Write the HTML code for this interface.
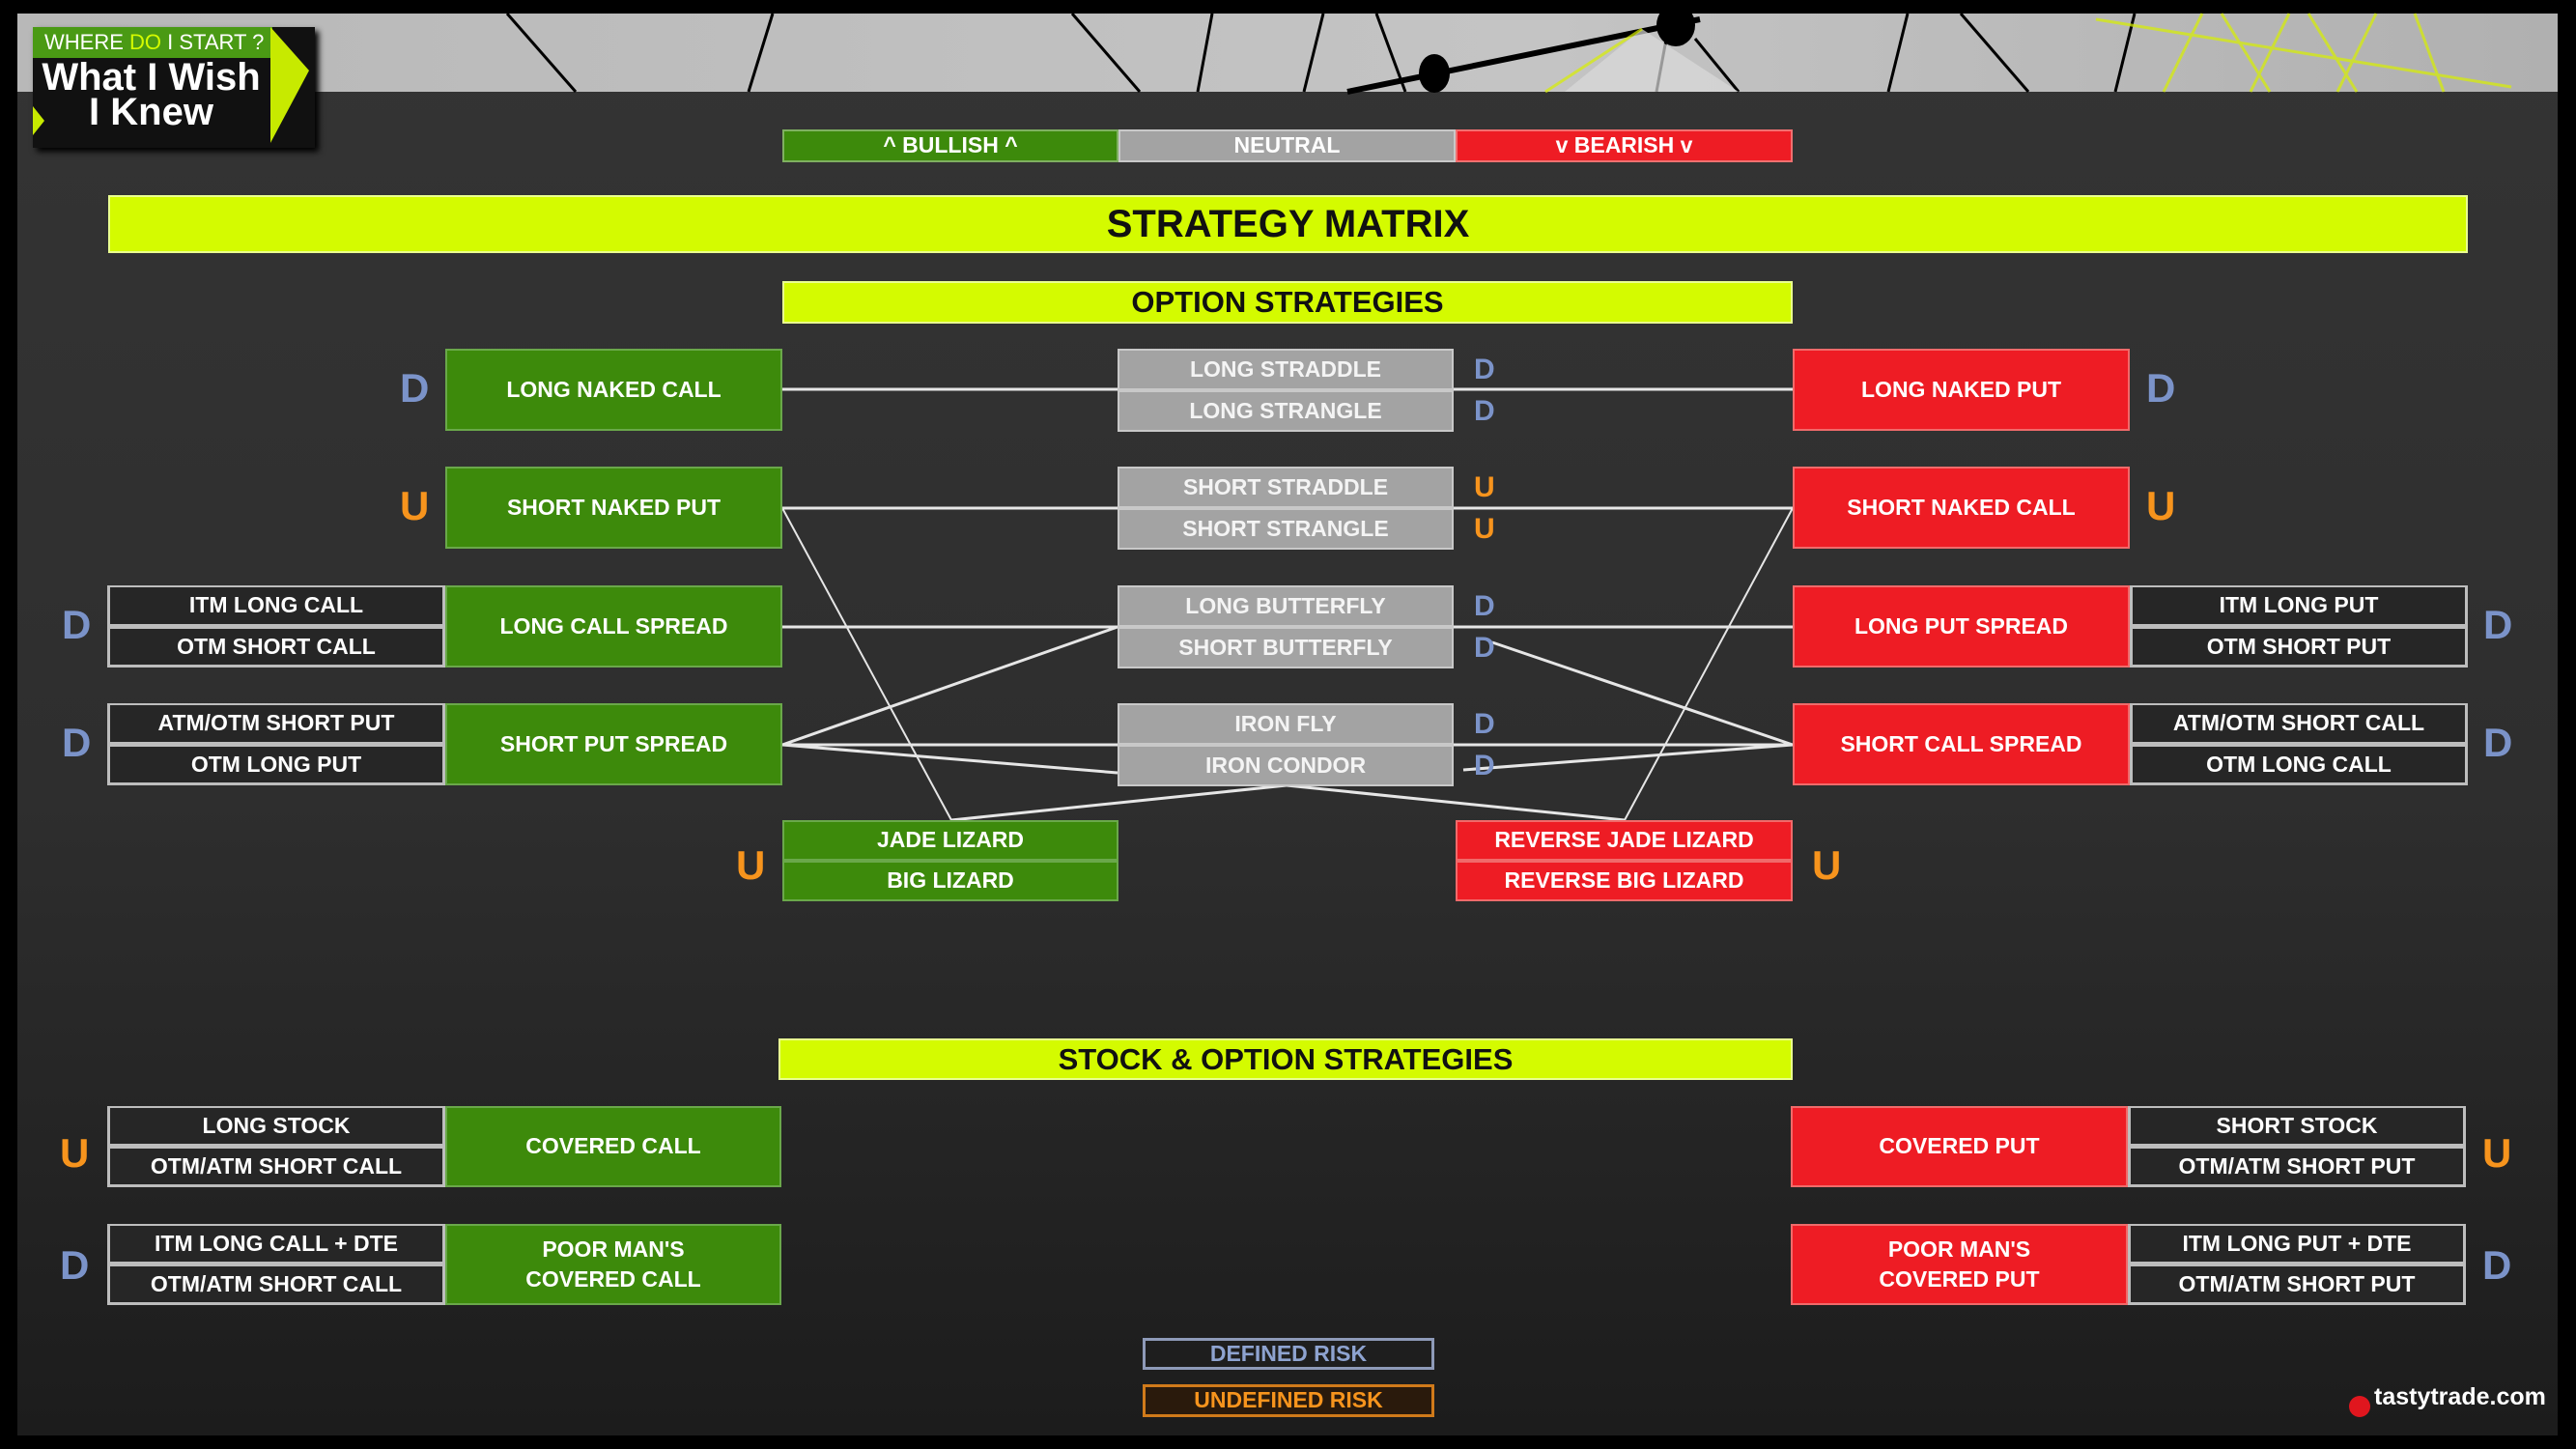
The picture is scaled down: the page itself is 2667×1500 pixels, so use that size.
<!DOCTYPE html>
<html><head><meta charset="utf-8">
<style>
*{margin:0;padding:0;box-sizing:border-box}
body{width:2667px;height:1500px;background:#000;position:relative;overflow:hidden;font-family:"Liberation Sans Narrow","Liberation Sans",sans-serif;font-weight:bold}
.bg{position:absolute;left:18px;top:14px;width:2630px;height:1472px;background:linear-gradient(#343434,#2e2e2e 55%,#1c1c1c)}
.strip{position:absolute;left:18px;top:14px;width:2630px;height:81px;background:linear-gradient(90deg,#b8b8b8,#c4c4c4 60%,#b0b0b0)}
.a{position:absolute;display:flex;align-items:center;justify-content:center;text-align:center;color:#fff;font-size:23px;line-height:1.35}
.g{background:#3d8a0b;border:2px solid #6aa84a}
.r{background:#ee1c24;border:2px solid #f06a6a}
.gr{background:#a3a3a3;border:2px solid #c8c8c8;color:#f4f4f4}
.t{background:#262626;border:3px solid #bdbdbd;border-top-width:2px}
.y{background:#d4fb00;color:#111;border:2px solid #eaff90}
.D{position:absolute;color:#7b93c9;font-size:42px;font-family:"Liberation Sans",sans-serif}
.U{position:absolute;color:#f7941d;font-size:42px;font-family:"Liberation Sans",sans-serif}
.s{font-size:30px}
</style></head><body>
<div class="bg"></div>
<div class="strip"></div>
<svg style="position:absolute;left:0;top:0" width="2667" height="1500">
 <g stroke="#000" stroke-width="3" fill="none">
  <line x1="525" y1="14" x2="596" y2="95"/><line x1="800" y1="14" x2="775" y2="95"/>
  <line x1="1110" y1="14" x2="1180" y2="95"/><line x1="1255" y1="14" x2="1240" y2="95"/>
  <line x1="1370" y1="14" x2="1350" y2="95"/><line x1="1425" y1="14" x2="1455" y2="95"/>
  <line x1="1395" y1="95" x2="1760" y2="20" stroke-width="6"/>
  <line x1="1730" y1="14" x2="1715" y2="95"/><line x1="1755" y1="40" x2="1800" y2="95"/>
  <line x1="1975" y1="14" x2="1955" y2="95"/><line x1="2030" y1="14" x2="2100" y2="95"/>
  <line x1="2210" y1="14" x2="2190" y2="95"/>
 </g>
 <ellipse cx="1485" cy="76" rx="16" ry="20" fill="#000"/>
 <ellipse cx="1735" cy="26" rx="20" ry="22" fill="#000"/>
 <polygon points="1620,95 1700,30 1800,95" fill="#dadada" opacity=".7"/>
 <g stroke="#d8f000" stroke-width="3" opacity=".7" fill="none">
  <line x1="2170" y1="20" x2="2600" y2="90"/><line x1="2240" y1="95" x2="2280" y2="14"/>
  <line x1="2330" y1="95" x2="2370" y2="14"/><line x1="2420" y1="95" x2="2460" y2="14"/>
  <line x1="2300" y1="14" x2="2350" y2="95"/><line x1="2390" y1="14" x2="2440" y2="95"/>
  <line x1="2500" y1="14" x2="2530" y2="95"/><line x1="1600" y1="95" x2="1700" y2="30"/>
 </g>
 <g stroke="#e6e6e6" stroke-width="3" fill="none">
  <line x1="810" y1="403" x2="1856" y2="403"/>
  <line x1="810" y1="526" x2="1856" y2="526"/>
  <line x1="810" y1="649" x2="1856" y2="649"/>
  <line x1="810" y1="771" x2="1856" y2="771"/>
  <line x1="810" y1="771" x2="1157" y2="649"/>
  <line x1="810" y1="771" x2="1157" y2="800"/>
  <line x1="1545" y1="665" x2="1856" y2="771"/>
  <line x1="1515" y1="797" x2="1856" y2="771"/>
  <line x1="985" y1="849" x2="1332" y2="813"/>
  <line x1="1682" y1="849" x2="1332" y2="813"/>
  <line x1="810" y1="526" x2="985" y2="849" stroke-width="2"/>
  <line x1="1856" y1="526" x2="1682" y2="849" stroke-width="2"/>
 </g>
</svg>
<div style="position:absolute;left:34px;top:28px;width:292px;height:125px;background:#111;box-shadow:4px 4px 6px #000"></div>
<div style="position:absolute;left:34px;top:28px;width:248px;height:32px;background:#4a9a14;color:#fff;font-size:22px;font-weight:normal;padding-left:12px;line-height:32px">WHERE <span style="color:#d4fb00">DO</span> I START ?</div>
<svg style="position:absolute;left:280px;top:28px" width="46" height="120"><polygon points="0,0 40,45 0,120" fill="#c7ea00"/></svg>
<svg style="position:absolute;left:34px;top:110px" width="14" height="30"><polygon points="0,0 12,15 0,30" fill="#c7ea00"/></svg>
<div style="position:absolute;left:34px;top:62px;width:245px;color:#fff;font-size:40px;line-height:36px;text-align:center">What I Wish<br>I Knew</div>

<div class="a" style="left:810px;top:134px;width:348px;height:34px;background:#3d8a0b;border:2px solid #7fb060">^ BULLISH ^</div>
<div class="a" style="left:1158px;top:134px;width:349px;height:34px;background:#a3a3a3;border:2px solid #c8c8c8">NEUTRAL</div>
<div class="a" style="left:1507px;top:134px;width:349px;height:34px;background:#ee1c24;border:2px solid #f07070">v BEARISH v</div>

<div class="a y" style="left:112px;top:202px;width:2443px;height:60px;font-size:40px">STRATEGY MATRIX</div>
<div class="a y" style="left:810px;top:291px;width:1046px;height:44px;font-size:31px">OPTION STRATEGIES</div>

<div class="D" style="left:414px;top:378px">D</div>
<div class="a g" style="left:461px;top:361px;width:349px;height:85px">LONG NAKED CALL</div>
<div class="a gr" style="left:1157px;top:361px;width:348px;height:43px">LONG STRADDLE</div>
<div class="a gr" style="left:1157px;top:404px;width:348px;height:43px">LONG STRANGLE</div>
<div class="D s" style="left:1526px;top:366px">D</div><div class="D s" style="left:1526px;top:409px">D</div>
<div class="a r" style="left:1856px;top:361px;width:349px;height:85px">LONG NAKED PUT</div>
<div class="D" style="left:2222px;top:378px">D</div>

<div class="U" style="left:414px;top:500px">U</div>
<div class="a g" style="left:461px;top:483px;width:349px;height:85px">SHORT NAKED PUT</div>
<div class="a gr" style="left:1157px;top:483px;width:348px;height:43px">SHORT STRADDLE</div>
<div class="a gr" style="left:1157px;top:526px;width:348px;height:43px">SHORT STRANGLE</div>
<div class="U s" style="left:1526px;top:488px">U</div><div class="U s" style="left:1526px;top:531px">U</div>
<div class="a r" style="left:1856px;top:483px;width:349px;height:85px">SHORT NAKED CALL</div>
<div class="U" style="left:2222px;top:500px">U</div>

<div class="D" style="left:64px;top:623px">D</div>
<div class="a t" style="left:111px;top:606px;width:350px;height:43px">ITM LONG CALL</div>
<div class="a t" style="left:111px;top:649px;width:350px;height:42px">OTM SHORT CALL</div>
<div class="a g" style="left:461px;top:606px;width:349px;height:85px">LONG CALL SPREAD</div>
<div class="a gr" style="left:1157px;top:606px;width:348px;height:43px">LONG BUTTERFLY</div>
<div class="a gr" style="left:1157px;top:649px;width:348px;height:43px">SHORT BUTTERFLY</div>
<div class="D s" style="left:1526px;top:611px">D</div><div class="D s" style="left:1526px;top:654px">D</div>
<div class="a r" style="left:1856px;top:606px;width:349px;height:85px">LONG PUT SPREAD</div>
<div class="a t" style="left:2205px;top:606px;width:350px;height:43px">ITM LONG PUT</div>
<div class="a t" style="left:2205px;top:649px;width:350px;height:42px">OTM SHORT PUT</div>
<div class="D" style="left:2571px;top:623px">D</div>

<div class="D" style="left:64px;top:745px">D</div>
<div class="a t" style="left:111px;top:728px;width:350px;height:43px">ATM/OTM SHORT PUT</div>
<div class="a t" style="left:111px;top:771px;width:350px;height:42px">OTM LONG PUT</div>
<div class="a g" style="left:461px;top:728px;width:349px;height:85px">SHORT PUT SPREAD</div>
<div class="a gr" style="left:1157px;top:728px;width:348px;height:43px">IRON FLY</div>
<div class="a gr" style="left:1157px;top:771px;width:348px;height:43px">IRON CONDOR</div>
<div class="D s" style="left:1526px;top:733px">D</div><div class="D s" style="left:1526px;top:776px">D</div>
<div class="a r" style="left:1856px;top:728px;width:349px;height:85px">SHORT CALL SPREAD</div>
<div class="a t" style="left:2205px;top:728px;width:350px;height:43px">ATM/OTM SHORT CALL</div>
<div class="a t" style="left:2205px;top:771px;width:350px;height:42px">OTM LONG CALL</div>
<div class="D" style="left:2571px;top:745px">D</div>

<div class="U" style="left:762px;top:872px">U</div>
<div class="a g" style="left:810px;top:849px;width:348px;height:42px">JADE LIZARD</div>
<div class="a g" style="left:810px;top:891px;width:348px;height:42px">BIG LIZARD</div>
<div class="a r" style="left:1507px;top:849px;width:349px;height:42px">REVERSE JADE LIZARD</div>
<div class="a r" style="left:1507px;top:891px;width:349px;height:42px">REVERSE BIG LIZARD</div>
<div class="U" style="left:1876px;top:872px">U</div>

<div class="a y" style="left:806px;top:1075px;width:1050px;height:43px;font-size:31px">STOCK &amp; OPTION STRATEGIES</div>

<div class="U" style="left:62px;top:1170px">U</div>
<div class="a t" style="left:111px;top:1145px;width:350px;height:42px">LONG STOCK</div>
<div class="a t" style="left:111px;top:1187px;width:350px;height:42px">OTM/ATM SHORT CALL</div>
<div class="a g" style="left:461px;top:1145px;width:348px;height:84px">COVERED CALL</div>
<div class="a r" style="left:1854px;top:1145px;width:349px;height:84px">COVERED PUT</div>
<div class="a t" style="left:2203px;top:1145px;width:350px;height:42px">SHORT STOCK</div>
<div class="a t" style="left:2203px;top:1187px;width:350px;height:42px">OTM/ATM SHORT PUT</div>
<div class="U" style="left:2570px;top:1170px">U</div>

<div class="D" style="left:62px;top:1286px">D</div>
<div class="a t" style="left:111px;top:1267px;width:350px;height:42px">ITM LONG CALL + DTE</div>
<div class="a t" style="left:111px;top:1309px;width:350px;height:42px">OTM/ATM SHORT CALL</div>
<div class="a g" style="left:461px;top:1267px;width:348px;height:84px">POOR MAN'S<br>COVERED CALL</div>
<div class="a r" style="left:1854px;top:1267px;width:349px;height:84px">POOR MAN'S<br>COVERED PUT</div>
<div class="a t" style="left:2203px;top:1267px;width:350px;height:42px">ITM LONG PUT + DTE</div>
<div class="a t" style="left:2203px;top:1309px;width:350px;height:42px">OTM/ATM SHORT PUT</div>
<div class="D" style="left:2570px;top:1286px">D</div>

<div class="a" style="left:1183px;top:1385px;width:302px;height:33px;border:3px solid #8e9ab8;color:#8ea3d0">DEFINED RISK</div>
<div class="a" style="left:1183px;top:1433px;width:302px;height:34px;border:3px solid #d07a1a;color:#f7941d;background:#2a1a0c">UNDEFINED RISK</div>

<div style="position:absolute;left:2432px;top:1445px;width:22px;height:22px;border-radius:50%;background:#e0161e"></div>
<div style="position:absolute;left:2458px;top:1432px;color:#fff;font-size:25px">tastytrade.com</div>
</body></html>
